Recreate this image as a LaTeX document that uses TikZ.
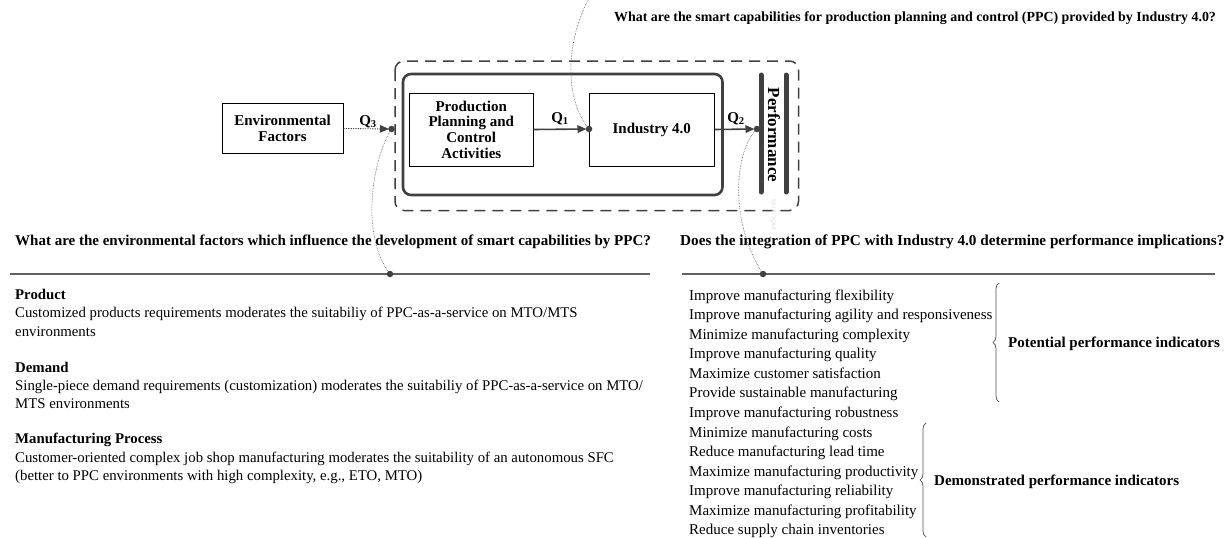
\documentclass[tikz,border=0pt]{standalone}
\usepackage{fontspec}
\setmainfont{Liberation Serif}
\usetikzlibrary{arrows.meta,decorations.pathreplacing}
\definecolor{dk}{HTML}{404040}
\definecolor{rl}{HTML}{606060}
\definecolor{cv}{HTML}{505050}
\begin{document}
\begin{tikzpicture}[x=1pt,y=-1pt,
  boxf/.style={font=\fontsize{15}{15.6}\selectfont\bfseries},
  box/.style={draw=black, line width=0.8pt, fill=white, boxf, align=center, inner sep=0pt},
  arr/.style={draw=dk, line width=1.6pt, -{Triangle[length=9pt,width=7.5pt]}, shorten >=2.5pt},
  jdot/.style={circle, fill=dk, inner sep=0pt, minimum size=6.5pt},
  curve/.style={draw=cv, line width=0.6pt, densely dotted},
  rule/.style={draw=rl, line width=1.3pt},
  qlab/.style={font=\fontsize{15}{15}\selectfont\bfseries, inner sep=0pt},
  quest/.style={font=\fontsize{15}{16}\selectfont\bfseries, anchor=base west, inner sep=0pt},
  body/.style={font=\fontsize{14.8}{18}\selectfont, anchor=base west, inner sep=0pt},
  bodyh/.style={font=\fontsize{14.8}{18}\selectfont\bfseries, anchor=base west, inner sep=0pt},
  ind/.style={font=\fontsize{15}{15}\selectfont, anchor=base west, inner sep=0pt},
  indlab/.style={font=\fontsize{15}{15}\selectfont\bfseries, anchor=base west, inner sep=0pt},
  brc/.style={draw=cv, line width=0.7pt, decorate, decoration={brace, amplitude=6pt}},
  bar/.style={draw=dk, line width=5pt, line cap=round}
]
\useasboundingbox (0,0) rectangle (1232,538);

% top question
\node[quest, font=\fontsize{13.9}{16}\selectfont\bfseries] (qtop) at (614,21) {What are the smart capabilities for production planning and control (PPC) provided by Industry 4.0?};

% frames
\draw[draw=dk, line width=1.5pt, dash pattern=on 11pt off 7pt, rounded corners=9pt] (395,61) rectangle (798.5,210.5);
\draw[draw=dk, line width=2.6pt, rounded corners=8pt] (403,74) rectangle (722.5,195);

% boxes
\node[box, minimum width=121pt, minimum height=50pt] (env) at (282.5,128.5) {Environmental\\Factors};
\node[box, minimum width=123.5pt, minimum height=73pt] (ppc) at (471.25,129.5) {Production\\Planning and\\Control\\Activities};
\node[box, minimum width=125.5pt, minimum height=73pt] (ind) at (651.75,129.5) {Industry 4.0};

% performance bars
\coordinate (b1t) at (761,75); \coordinate (b1b) at (761,192);
\coordinate (b2t) at (786,75); \coordinate (b2b) at (786,192);
\draw[bar] (b1t) -- (b1b);
\draw[bar] (b2t) -- (b2b);
\node[font=\fontsize{17}{17}\selectfont\bfseries, rotate=-90, inner sep=0pt] (perf) at (774,135) {Performance};
\node[font=\fontsize{8}{8}\selectfont, text=black!12, rotate=90, inner sep=0pt] (wm) at (773,215) {indicators};

% junction dots
\node[jdot] (d3) at (391.5,129) {};
\node[jdot] (d1) at (589,129) {};
\node[jdot] (d2) at (757,129) {};

% arrows
\draw[arr, line width=0.9pt, dash pattern=on 1.2pt off 1.2pt] (env.east) -- (d3.center);
\draw[arr] (ppc.east) -- (d1.center);
\draw[arr] (ind.east) -- (d2.center);
\node[qlab] (q3) at (368,122) {Q\textsubscript{3}};
\node[qlab] (q1) at (560,119) {Q\textsubscript{1}};
\node[qlab] (q2) at (736,119) {Q\textsubscript{2}};

% rules and their dots
\coordinate (rl1) at (10,274); \coordinate (rl2) at (650,274);
\coordinate (rr1) at (682,274); \coordinate (rr2) at (1215,274);
\draw[rule] (rl1) -- (rl2);
\draw[rule] (rr1) -- (rr2);
\node[jdot] (e3) at (390,274) {};
\node[jdot] (e2) at (763,274) {};
\coordinate (ctop) at (588,0);

% dotted curves
\draw[curve] (ctop) .. controls (565,45) and (565,100) .. (d1.center);
\draw[curve] (d3.center) .. controls (372,160) and (360,235) .. (e3.center);
\draw[curve] (d2.center) .. controls (735,150) and (728,220) .. (e2.center);

% questions
\node[quest] (qleft) at (15,245) {What are the environmental factors which influence the development of smart capabilities by PPC?};
\node[quest, font=\fontsize{15.2}{16}\selectfont\bfseries] (qright) at (680,245) {Does the integration of PPC with Industry 4.0 determine performance implications?};

% left text
\node[bodyh] (h1) at (15,299) {Product};
\node[body] (l1) at (15,317.5) {Customized products requirements moderates the suitabiliy of PPC-as-a-service on MTO/MTS};
\node[body] (l2) at (15,336) {environments};
\node[bodyh] (h2) at (15,372) {Demand};
\node[body] (l3) at (15,390) {Single-piece demand requirements (customization) moderates the suitabiliy of PPC-as-a-service on MTO/};
\node[body] (l4) at (15,408) {MTS environments};
\node[bodyh] (h3) at (15,443.5) {Manufacturing Process};
\node[body] (l5) at (15,462) {Customer-oriented complex job shop manufacturing moderates the suitability of an autonomous SFC};
\node[body] (l6) at (15,480) {(better to PPC environments with high complexity, e.g., ETO, MTO)};

% right list
\foreach \t [count=\i from 0] in {Improve manufacturing flexibility,
  Improve manufacturing agility and responsiveness,
  Minimize manufacturing complexity,
  Improve manufacturing quality,
  Maximize customer satisfaction,
  Provide sustainable manufacturing,
  Improve manufacturing robustness,
  Minimize manufacturing costs,
  Reduce manufacturing lead time,
  Maximize manufacturing productivity,
  Improve manufacturing reliability,
  Maximize manufacturing profitability,
  Reduce supply chain inventories}{
  \node[ind] (it\i) at (689,{300+\i*19.58}) {\t};
}

% braces
\coordinate (pb1) at (999,402); \coordinate (pb2) at (999,283);
\coordinate (db1) at (926,537); \coordinate (db2) at (926,423);
\draw[brc] (pb1) -- (pb2);
\draw[brc] (db1) -- (db2);
\node[indlab] (pot) at (1008,347) {Potential performance indicators};
\node[indlab] (dem) at (934,485) {Demonstrated performance indicators};
\end{tikzpicture}
\end{document}
